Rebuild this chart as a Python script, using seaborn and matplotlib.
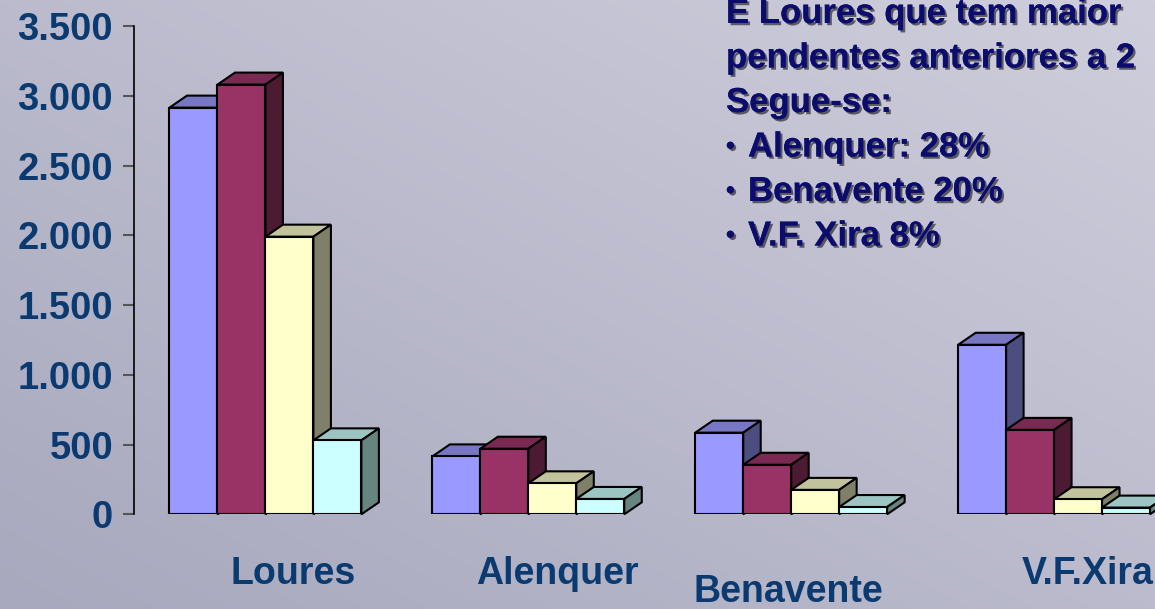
import numpy as np
import pandas as pd
import matplotlib
matplotlib.use('Agg')
import matplotlib.pyplot as plt
import matplotlib.patheffects as pe
from matplotlib.patches import Polygon
from matplotlib.transforms import ScaledTranslation
import seaborn as sns

# Values
concelhos = ['Loures', 'Alenquer', 'Benavente', 'V.F.Xira']
series = ['Série 1', 'Série 2', 'Série 3', 'Série 4']
serie1 = [2915, 415, 585, 1215]
serie2 = [3080, 470, 355, 605]
serie3 = [1990, 222, 175, 108]
serie4 = [530, 110, 52, 48]

y_ticks = [0, 500, 1000, 1500, 2000, 2500, 3000, 3500]
y_labels = ['0', '500', '1.000', '1.500', '2.000', '2.500', '3.000', '3.500']

texto = ['É Loures que tem maior', 'pendentes anteriores a 2', 'Segue-se:']
bullets = ['Alenquer: 28%', 'Benavente 20%', 'V.F. Xira 8%']

# colours: front, top and side faces of the 3D columns
front = ['#9999FF', '#993366', '#FFFFCC', '#CCFFFF']
top = ['#7777C4', '#7A2952', '#C2C29C', '#9CC4C2']
side = ['#4D4D80', '#4D1A33', '#80806A', '#668480']

df = pd.DataFrame({
    'Concelho': concelhos * 4,
    'Serie': np.repeat(series, 4),
    'Valor': serie1 + serie2 + serie3 + serie4,
})

sns.set_style('white')
plt.rcParams['font.family'] = ['Liberation Sans', 'DejaVu Sans']

W, H = 1155, 609
fig = plt.figure(figsize=(W / 100, H / 100), dpi=100)

# diagonal gradient background
bg = fig.add_axes([0, 0, 1, 1], zorder=-10)
gx, gy = np.meshgrid(np.linspace(0, 1, 200), np.linspace(1, 0, 200))
t = (gx + gy) / 2
c0 = np.array([0xA8, 0xA8, 0xBE]) / 255
c1 = np.array([0xCE, 0xCE, 0xDC]) / 255
img = c0 + (c1 - c0) * t[..., None]
bg.imshow(img, extent=[0, 1, 0, 1], aspect='auto')
bg.axis('off')

ax = fig.add_axes([134 / W, (H - 514.3) / H, (W - 134) / W, 488.3 / H])
ax.set_facecolor('none')

sns.barplot(data=df, x='Concelho', y='Valor', hue='Serie', order=concelhos,
            hue_order=series, palette=front, saturation=1, width=0.73,
            edgecolor='black', linewidth=1.5, legend=False, ax=ax)

ax.set_xlim(-0.5, 3.384)
ax.set_ylim(0, 3500)

# 3D depth of the columns, in pixels converted to data units
dx = 17.5 / (ax.bbox.width / 3.884)
dy = 12 / (ax.bbox.height / 3500)

for j, cont in enumerate(ax.containers):
    for bar in cont:
        x0, w, h = bar.get_x(), bar.get_width(), bar.get_height()
        bar.set_zorder(3 + 2 * j)
        ax.add_patch(Polygon([(x0, h), (x0 + w, h), (x0 + w + dx, h + dy), (x0 + dx, h + dy)],
                             closed=True, fc=top[j], ec='black', lw=1.5,
                             zorder=2 + 2 * j, clip_on=False))
        ax.add_patch(Polygon([(x0 + w, 0), (x0 + w + dx, dy), (x0 + w + dx, h + dy), (x0 + w, h)],
                             closed=True, fc=side[j], ec='black', lw=1.5,
                             zorder=2 + 2 * j, clip_on=False))

# axes styling
sns.despine(ax=ax, bottom=True)
ax.spines['left'].set_color('black')
ax.spines['left'].set_linewidth(1.2)
ax.set_xlabel('')
ax.set_ylabel('')

navy = '#0A3A70'
ax.set_yticks(y_ticks, y_labels)
ax.tick_params(axis='y', left=True, length=8, width=1.5, color='#555555', pad=7,
               labelsize=27.5, labelcolor=navy)
ax.set_xticks(range(len(concelhos)), concelhos)
ax.tick_params(axis='x', bottom=False, length=0, pad=30, labelsize=27, labelcolor=navy)
for lab in ax.get_yticklabels() + ax.get_xticklabels():
    lab.set_fontweight('bold')

# Benavente label sits lower (staggered), all labels shifted a bit right
offsets = [(0.28, 0), (0.29, 0), (-0.03, -0.18), (0.34, 0)]
for lab, (ox, oy) in zip(ax.get_xticklabels(), offsets):
    lab.set_transform(lab.get_transform() + ScaledTranslation(ox, oy, fig.dpi_scale_trans))

# text block at the top right
shadow = [pe.withSimplePatchShadow(offset=(1.6, -1.6), shadow_rgbFace='black', alpha=0.55),
          pe.Normal()]
txt_color = '#0C0C6E'
y = 23
for line in texto:
    fig.text(726 / W, 1 - y / H, line, fontsize=25, fontweight='bold', color=txt_color,
             va='baseline', ha='left', path_effects=shadow)
    y += 44.5
for line in bullets:
    fig.text(726 / W, 1 - (y - 3) / H, '•', fontsize=18, fontweight='bold', color=txt_color,
             va='baseline', ha='left', path_effects=shadow)
    fig.text(748 / W, 1 - y / H, line, fontsize=25, fontweight='bold', color=txt_color,
             va='baseline', ha='left', path_effects=shadow)
    y += 44.5

fig.savefig('out.png', dpi=100)
